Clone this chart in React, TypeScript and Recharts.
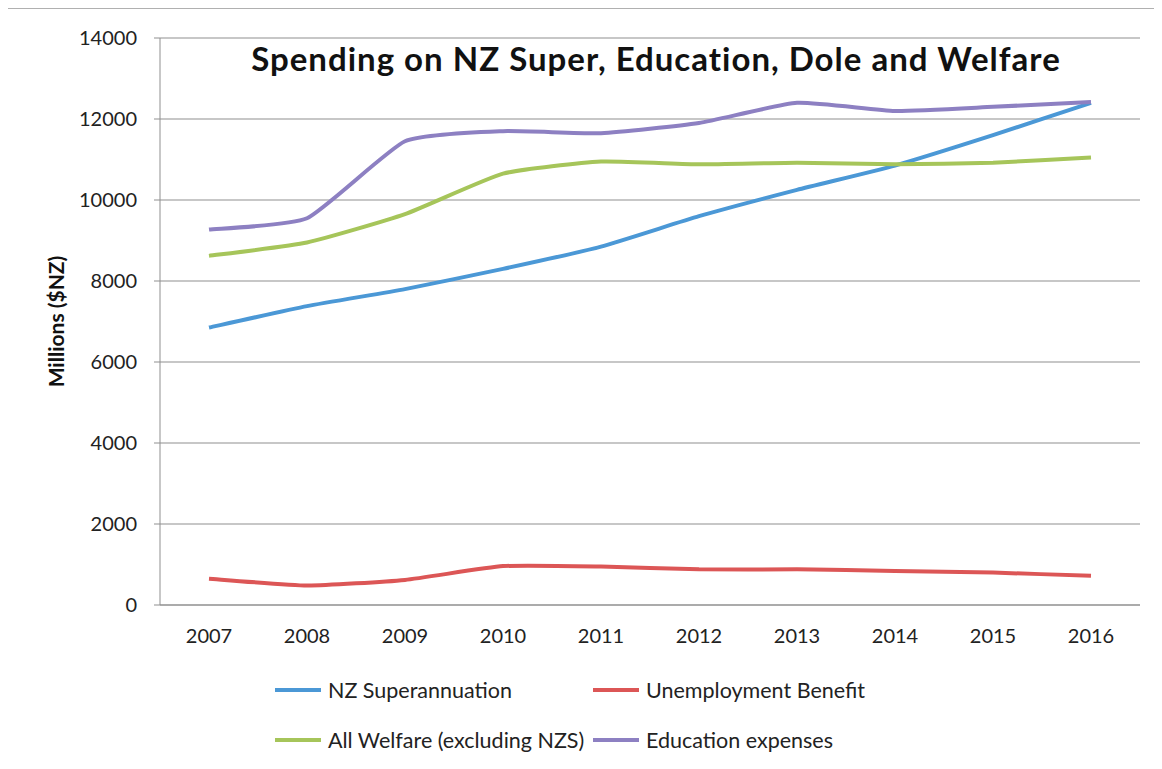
import React from "react";
import { LineChart, Line, XAxis, YAxis, CartesianGrid, Legend } from "recharts";

// years on the x axis
const years = [2007, 2008, 2009, 2010, 2011, 2012, 2013, 2014, 2015, 2016];

// spending, millions of NZ dollars
const nzSuper = [6850, 7380, 7800, 8300, 8850, 9600, 10250, 10850, 11600, 12400];
const unemployment = [650, 480, 620, 960, 950, 880, 880, 840, 800, 720];
const allWelfare = [8620, 8950, 9650, 10650, 10950, 10880, 10920, 10880, 10920, 11050];
const education = [9270, 9550, 11450, 11700, 11650, 11900, 12400, 12200, 12300, 12420];

const yTicks = [0, 2000, 4000, 6000, 8000, 10000, 12000, 14000];

const series = [
  { key: "super", name: "NZ Superannuation", color: "#4b98d6", values: nzSuper },
  { key: "dole", name: "Unemployment Benefit", color: "#dc5656", values: unemployment },
  { key: "welfare", name: "All Welfare (excluding NZS)", color: "#a6c55a", values: allWelfare },
  { key: "edu", name: "Education expenses", color: "#8d80c2", values: education },
];

const data = years.map((year, i) => {
  const row: any = { year };
  series.forEach((s) => (row[s.key] = s.values[i]));
  return row;
});

// category edges for the Excel-style tick marks between years
const edges = [...years.map((y) => y - 0.5), years[years.length - 1] + 0.5];

const FONT = "Lato, 'Open Sans', sans-serif";

// Excel's smoothed line: a loose cardinal spline, mostly straight with rounded corners
const SMOOTH = 12;
const excelSmooth = (ctx: any) => {
  let pts: number[][] = [];
  return {
    areaStart() {},
    areaEnd() {},
    lineStart() {
      pts = [];
    },
    point(x: number, y: number) {
      pts.push([+x, +y]);
    },
    lineEnd() {
      if (!pts.length) return;
      ctx.moveTo(pts[0][0], pts[0][1]);
      for (let i = 0; i < pts.length - 1; i++) {
        const p0 = pts[i - 1] || pts[i];
        const p1 = pts[i];
        const p2 = pts[i + 1];
        const p3 = pts[i + 2] || p2;
        ctx.bezierCurveTo(
          p1[0] + (p2[0] - p0[0]) / SMOOTH,
          p1[1] + (p2[1] - p0[1]) / SMOOTH,
          p2[0] - (p3[0] - p1[0]) / SMOOTH,
          p2[1] - (p3[1] - p1[1]) / SMOOTH,
          p2[0],
          p2[1]
        );
      }
    },
  };
};

const LegendBox = () => (
  <div
    style={{
      display: "grid",
      gridTemplateColumns: "318px 318px",
      rowGap: 24,
      fontFamily: FONT,
      fontSize: 21.5,
      lineHeight: "26px",
      color: "#222",
    }}
  >
    {series.map((s) => (
      <div key={s.key} style={{ display: "flex", alignItems: "center" }}>
        <span style={{ display: "inline-block", width: 46, height: 4, background: s.color, marginRight: 7 }} />
        <span>{s.name}</span>
      </div>
    ))}
  </div>
);

export default function App() {
  return (
    <div
      style={{
        position: "relative",
        width: 1154,
        height: 761,
        marginLeft: -2,
        border: "1px solid #b0b0b0",
        borderBottom: "none",
        background: "#fff",
      }}
    >
      <LineChart width={1154} height={761} data={data} margin={{ top: 29, right: 21, bottom: 125, left: 0 }}>
        <CartesianGrid vertical={false} stroke="#8f8f8f" strokeWidth={1} />
        <XAxis
          xAxisId="bounds"
          type="number"
          domain={[2006.5, 2016.5]}
          allowDataOverflow
          ticks={edges}
          tick={false}
          tickSize={6}
          axisLine={false}
          tickLine={{ stroke: "#8f8f8f" }}
          height={0}
        />
        <XAxis
          xAxisId="years"
          dataKey="year"
          type="number"
          domain={[2006.5, 2016.5]}
          allowDataOverflow
          ticks={years}
          interval={0}
          tickLine={false}
          tickSize={0}
          tickMargin={24}
          axisLine={{ stroke: "#8f8f8f" }}
          height={40}
          tick={{ fill: "#222", fontSize: 20, fontFamily: FONT }}
        />
        <YAxis
          domain={[0, 14000]}
          ticks={yTicks}
          width={153}
          tickSize={6}
          tickMargin={17}
          axisLine={{ stroke: "#8f8f8f" }}
          tickLine={{ stroke: "#8f8f8f" }}
          tick={{ fill: "#222", fontSize: 20, fontFamily: FONT }}
          label={{
            value: "Millions ($NZ)",
            angle: -90,
            position: "insideLeft",
            offset: 50,
            fill: "#111",
            fontSize: 21,
            fontWeight: 700,
            fontFamily: FONT,
            textAnchor: "middle",
          }}
        />
        {series.map((s) => (
          <Line
            key={s.key}
            xAxisId="years"
            type={excelSmooth as any}
            dataKey={s.key}
            name={s.name}
            stroke={s.color}
            strokeWidth={4}
            dot={false}
            isAnimationActive={false}
          />
        ))}
        <Legend
          layout="horizontal"
          verticalAlign="middle"
          align="center"
          content={() => <LegendBox />}
          wrapperStyle={{ left: 268, top: 668, width: 700, height: 90 }}
        />
      </LineChart>
      <div
        style={{
          position: "absolute",
          left: 0,
          top: 30,
          width: 1298,
          textAlign: "center",
          fontFamily: FONT,
          fontWeight: 700,
          fontSize: 33,
          letterSpacing: 1,
          lineHeight: 1.2,
          color: "#111",
          pointerEvents: "none",
        }}
      >
        Spending on NZ Super, Education, Dole and Welfare
      </div>
    </div>
  );
}
